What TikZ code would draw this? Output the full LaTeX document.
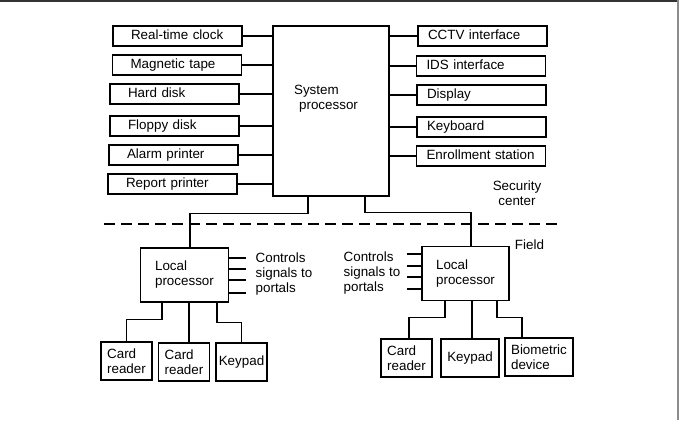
\documentclass[tikz,border=0pt]{standalone}
\usepackage{fontspec}
\setmainfont{Liberation Sans}
\begin{document}
\begin{tikzpicture}[x=1pt, y=-1pt, line width=1.3pt,
  font=\fontsize{13.4}{15}\selectfont,
  lbox/.style={draw, minimum width=129, minimum height=20, inner xsep=18, inner ysep=0,
    text width=93, align=left, text height=9.6, text depth=2.8},
  rbox/.style={lbox, inner xsep=10, text width=109},
  unit/.style={draw, minimum width=51, minimum height=38, inner sep=0, align=left},
  proc/.style={draw, minimum width=88, minimum height=54, inner sep=0, align=left},
  note/.style={align=left, inner sep=0, anchor=west}]
\useasboundingbox (0,0) rectangle (679,420);
\draw[line width=1.8pt, black!80] (0,1) -- (679,1);
\draw[line width=1.4pt, black!45] (678,0) -- (678,420);

% security center
\node[draw, minimum width=116, minimum height=170] (sys) at (331,111) {};
\node[align=left, inner sep=0] (syslbl) at (326,99) {System\\\hspace{5pt}processor};

\node[lbox] (rtc) at (177.5,36) {Real-time clock};
\node[lbox] (tape) at (177,65) {Magnetic tape};
\node[lbox] (hdd) at (174.5,94) {Hard disk};
\node[lbox] (fdd) at (174.5,126) {Floppy disk};
\node[lbox] (alarm) at (173.5,155) {Alarm printer};
\node[lbox] (report) at (172.5,184) {Report printer};

\node[rbox] (cctv) at (482.5,36) {CCTV interface};
\node[rbox] (ids) at (481,66) {IDS interface};
\node[rbox] (disp) at (481.5,95) {Display};
\node[rbox] (kbd) at (481.5,127) {Keyboard};
\node[rbox] (enrol) at (481,156) {Enrollment station};

\foreach \n in {rtc,tape,hdd,fdd,alarm,report}
  \draw (\n.east) -- (sys.west |- \n.east);
\foreach \n in {cctv,ids,disp,kbd,enrol}
  \draw (\n.west) -- (sys.east |- \n.west);

\node[align=center, inner sep=0] (seccen) at (517,193) {Security\\center};
\draw[dash pattern=on 11pt off 6pt] (104,224) -- (562,224);
\node[inner sep=0] (field) at (529.5,245) {Field};

% field, left
\node[proc] (lpl) at (184.5,275) {Local\\processor};
\foreach \dy in {17,6,-5,-18}
  \draw ([yshift=\dy]lpl.east) -- ++(17,0);
\node[note] (lctl) at (255,274) {Controls\\signals to\\portals};
\node[unit] (lcr1) at (126.5,361) {Card\\reader};
\node[unit] (lcr2) at (184,362) {Card\\reader};
\node[unit] (lkp) at (241.5,362) {Keypad};

% field, right
\node[proc, minimum width=87] (rpl) at (465.5,273.5) {Local\\processor};
\foreach \dy in {19.5,7.5,-3.5,-15.5}
  \draw ([yshift=\dy]rpl.west) -- ++(-14,0);
\node[note] (rctl) at (343,273) {Controls\\signals to\\portals};
\node[unit] (rcr) at (406.5,358) {Card\\reader};
\node[unit, minimum width=58] (rkp) at (470,358) {Keypad};
\node[unit, minimum width=68] (bio) at (539,357) {Biometric\\device};

\draw ([xshift=-23]sys.south) -- ++(0,17) -| ([xshift=5.5]lpl.north);
\draw ([xshift=34]sys.south) -- ++(0,16) -| ([xshift=5.5]rpl.north);

\draw ([xshift=-22.5]lpl.south) -- ++(0,17) -| (lcr1.north);
\draw ([xshift=4.5]lpl.south) -- ([xshift=5]lcr2.north);
\draw ([xshift=32.5]lpl.south) -- ++(0,20) -| (lkp.north);

\draw ([xshift=-20.5]rpl.south) -- ++(0,16) -| ([xshift=2.5]rcr.north);
\draw ([xshift=6.5]rpl.south) -- ([xshift=2]rkp.north);
\draw ([xshift=31.5]rpl.south) -- ++(0,16) -| ([xshift=-17]bio.north);
\end{tikzpicture}
\end{document}
